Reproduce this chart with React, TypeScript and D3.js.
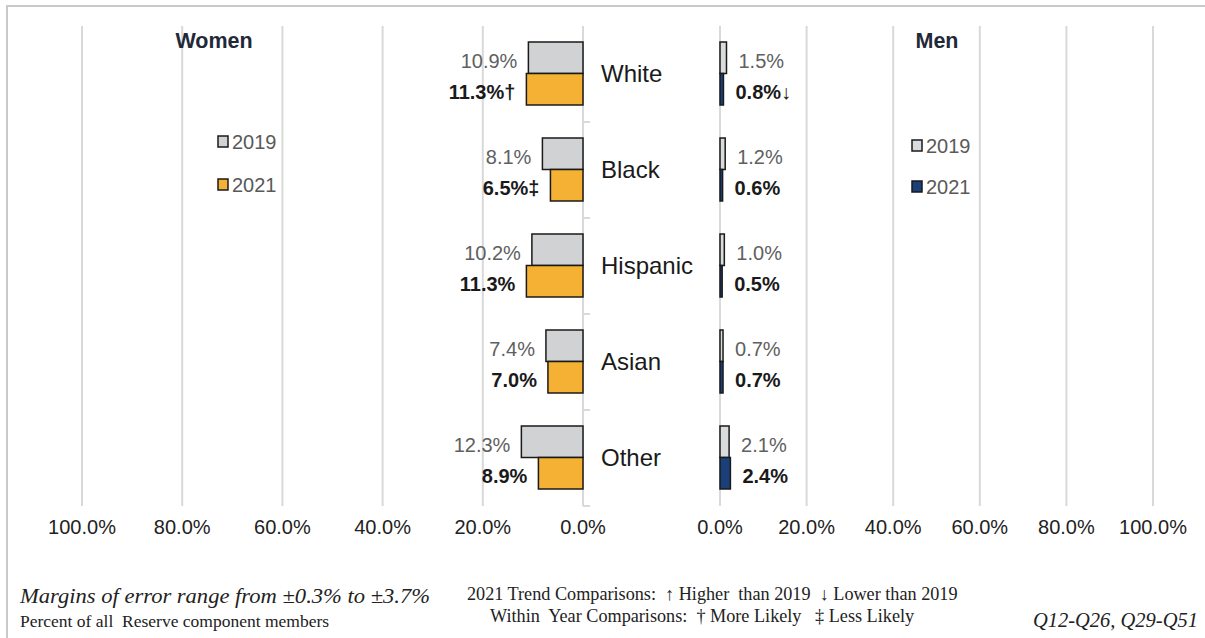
import { useEffect } from "react";
import * as d3 from "d3";

const categories = ["White", "Black", "Hispanic", "Asian", "Other"];
const years = ["2019", "2021"];
const women2019 = [10.9, 8.1, 10.2, 7.4, 12.3];
const women2021 = [11.3, 6.5, 11.3, 7.0, 8.9];
const women2021Marks = ["†", "‡", "", "", ""];
const men2019 = [1.5, 1.2, 1.0, 0.7, 2.1];
const men2021 = [0.8, 0.6, 0.5, 0.7, 2.4];
const men2021Marks = ["↓", "", "", "", ""];
const ticks = [0, 20, 40, 60, 80, 100];

const W = 1205;
const H = 638;
const sans = "Arial, 'Liberation Sans', sans-serif";
const serif = "'Times New Roman', 'Liberation Serif', serif";

const womenColors = { "2019": "#d1d2d4", "2021": "#f5b133" };
const menColors = { "2019": "#dadbdc", "2021": "#1b3f78" };

const App = () => {
  useEffect(() => {
    document.body.style.margin = "0";
  }, []);

  const y = d3.scaleBand().domain(categories).range([26, 506]);
  const yIn = d3.scaleBand().domain(years).range([16, 79]);
  const xW = d3.scaleLinear().domain([0, 100]).range([583, 82]);
  const xM = d3.scaleLinear().domain([0, 100]).range([720, 1153]);
  const pct = (v: number) => d3.format(".1f")(v) + "%";

  const women = categories.map((c, i) => ({
    cat: c,
    vals: [
      { year: "2019", v: women2019[i], mark: "" },
      { year: "2021", v: women2021[i], mark: women2021Marks[i] },
    ],
  }));
  const men = categories.map((c, i) => ({
    cat: c,
    vals: [
      { year: "2019", v: men2019[i], mark: "" },
      { year: "2021", v: men2021[i], mark: men2021Marks[i] },
    ],
  }));

  const grid = "#d9d9d9";

  return (
    <svg width={W} height={H} style={{ display: "block", background: "#fff" }}>
      {/* outer frame */}
      <rect x={7} y={6} width={1400} height={800} fill="none" stroke="#c9c9c9" strokeWidth={2} />

      {/* gridlines */}
      {ticks.map((t) => (
        <line key={"gw" + t} x1={xW(t)} x2={xW(t)} y1={26} y2={506} stroke={grid} strokeWidth={2} />
      ))}
      {ticks.map((t) => (
        <line key={"gm" + t} x1={xM(t)} x2={xM(t)} y1={26} y2={506} stroke={grid} strokeWidth={2} />
      ))}
      {/* category ticks on women's axis */}
      {categories.slice(1).map((c) => (
        <line key={"ct" + c} x1={xW(0)} x2={xW(0) + 7} y1={y(c)} y2={y(c)} stroke={grid} strokeWidth={2} />
      ))}
      <line x1={xW(0)} x2={xW(0) + 7} y1={506} y2={506} stroke={grid} strokeWidth={2} />

      {/* axis labels */}
      {ticks.map((t) => (
        <text key={"lw" + t} x={xW(t)} y={534} textAnchor="middle" fontFamily={sans} fontSize={20} fill="#222">
          {pct(t)}
        </text>
      ))}
      {ticks.map((t) => (
        <text key={"lm" + t} x={xM(t)} y={534} textAnchor="middle" fontFamily={sans} fontSize={20} fill="#222">
          {pct(t)}
        </text>
      ))}

      {/* women bars */}
      {women.map((d) => (
        <g key={"w" + d.cat} transform={`translate(0,${y(d.cat)})`}>
          {d.vals.map((b) => (
            <g key={b.year}>
              <rect
                x={xW(b.v)}
                y={yIn(b.year)}
                width={xW(0) - xW(b.v)}
                height={yIn.bandwidth()}
                fill={womenColors[b.year as "2019" | "2021"]}
                stroke="#1a1a1a"
                strokeWidth={1.5}
              />
              <text
                x={xW(b.v) - 11}
                y={(yIn(b.year) ?? 0) + yIn.bandwidth() / 2 + 10}
                textAnchor="end"
                fontFamily={sans}
                fontSize={20}
                fontWeight={b.year === "2021" ? "bold" : "normal"}
                fill={b.year === "2021" ? "#1a1a1a" : "#606060"}
              >
                {pct(b.v) + b.mark}
              </text>
            </g>
          ))}
          <text x={601} y={y.bandwidth() / 2 + 8} fontFamily={sans} fontSize={24} fill="#1a1a1a">
            {d.cat}
          </text>
        </g>
      ))}

      {/* men bars */}
      {men.map((d) => (
        <g key={"m" + d.cat} transform={`translate(0,${y(d.cat)})`}>
          {d.vals.map((b) => (
            <g key={b.year}>
              <rect
                x={xM(0)}
                y={yIn(b.year)}
                width={Math.max(xM(b.v) - xM(0), 1)}
                height={yIn.bandwidth()}
                fill={menColors[b.year as "2019" | "2021"]}
                stroke="#1a1a1a"
                strokeWidth={1.5}
              />
              <text
                x={xM(b.v) + 12}
                y={(yIn(b.year) ?? 0) + yIn.bandwidth() / 2 + 10}
                fontFamily={sans}
                fontSize={20}
                fontWeight={b.year === "2021" ? "bold" : "normal"}
                fill={b.year === "2021" ? "#1a1a1a" : "#606060"}
              >
                {pct(b.v) + b.mark}
              </text>
            </g>
          ))}
        </g>
      ))}

      {/* titles */}
      <text x={214} y={48} textAnchor="middle" fontFamily={sans} fontSize={21.5} fontWeight="bold" fill="#1f2937">
        Women
      </text>
      <text x={937} y={48} textAnchor="middle" fontFamily={sans} fontSize={21.5} fontWeight="bold" fill="#1f2937">
        Men
      </text>

      {/* legends */}
      {years.map((yr, i) => (
        <g key={"lgw" + yr} transform={`translate(218,${136 + i * 43})`}>
          <rect x={0} y={0} width={10} height={11} fill={womenColors[yr as "2019" | "2021"]} stroke="#1a1a1a" strokeWidth={1.5} />
          <text x={14} y={13} fontFamily={sans} fontSize={20} fill="#595959">
            {yr}
          </text>
        </g>
      ))}
      {years.map((yr, i) => (
        <g key={"lgm" + yr} transform={`translate(912,${140 + i * 41})`}>
          <rect x={0} y={0} width={10} height={11} fill={menColors[yr as "2019" | "2021"]} stroke="#1a1a1a" strokeWidth={1.5} />
          <text x={14} y={13} fontFamily={sans} fontSize={20} fill="#595959">
            {yr}
          </text>
        </g>
      ))}

      {/* footer */}
      <text x={20} y={603} fontFamily={serif} fontStyle="italic" fontSize={22} fill="#222" textLength={410} lengthAdjust="spacingAndGlyphs">
        Margins of error range from ±0.3% to ±3.7%
      </text>
      <text x={20} y={627} fontFamily={serif} fontSize={17.5} fill="#222" style={{ whiteSpace: "pre" }}>
        {"Percent of all  Reserve component members"}
      </text>
      <text x={467} y={600} fontFamily={serif} fontSize={18.2} fill="#222" style={{ whiteSpace: "pre" }}>
        {"2021 Trend Comparisons:  ↑ Higher  than 2019  ↓ Lower than 2019"}
      </text>
      <text x={490} y={622} fontFamily={serif} fontSize={18.2} fill="#222" style={{ whiteSpace: "pre" }}>
        {"Within  Year Comparisons:  † More Likely   ‡ Less Likely"}
      </text>
      <text x={1198} y={627} textAnchor="end" fontFamily={serif} fontStyle="italic" fontSize={20.5} fill="#222">
        Q12-Q26, Q29-Q51
      </text>
    </svg>
  );
};

export default App;
